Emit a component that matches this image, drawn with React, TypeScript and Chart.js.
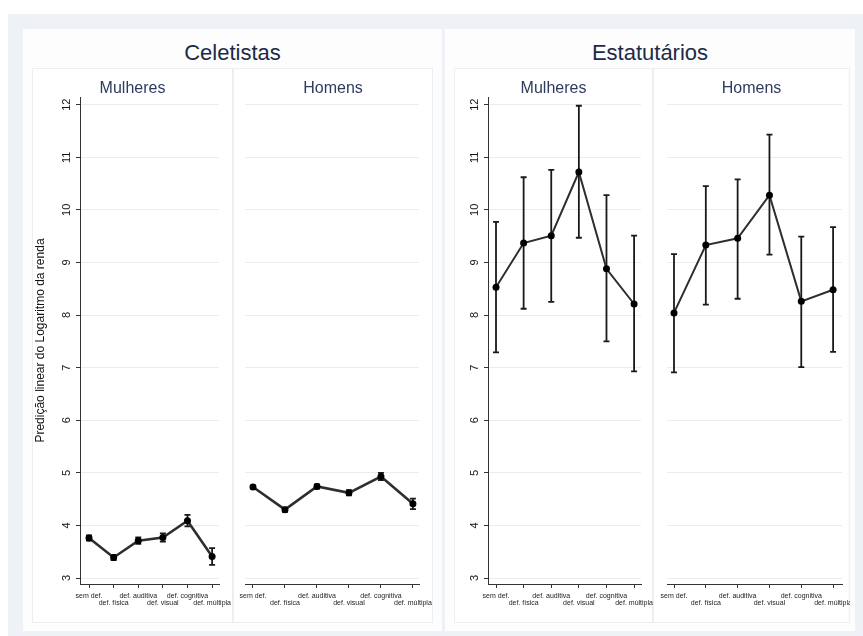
import React, { useEffect, useRef } from 'react';
import { Chart, registerables } from 'chart.js';

Chart.register(...registerables);

// ---------- data ----------
const categories = ['sem def.', 'def. física', 'def. auditiva', 'def. visual', 'def. cognitiva', 'def. múltipla'];
const yTickValues = [3, 4, 5, 6, 7, 8, 9, 10, 11, 12];
const yAxisTitle = 'Predição linear do Logaritmo da renda';
const groupTitles = ['Celetistas', 'Estatutários'];
const sexTitles = ['Mulheres', 'Homens'];

const celMulheresMean = [3.76, 3.39, 3.71, 3.77, 4.09, 3.41];
const celMulheresLo = [3.71, 3.34, 3.65, 3.69, 3.98, 3.25];
const celMulheresHi = [3.81, 3.44, 3.77, 3.85, 4.2, 3.57];

const celHomensMean = [4.73, 4.3, 4.74, 4.62, 4.93, 4.41];
const celHomensLo = [4.7, 4.26, 4.7, 4.57, 4.86, 4.31];
const celHomensHi = [4.76, 4.34, 4.78, 4.67, 5.0, 4.51];

const estMulheresMean = [8.53, 9.37, 9.51, 10.72, 8.88, 8.21];
const estMulheresLo = [7.29, 8.12, 8.25, 9.47, 7.5, 6.93];
const estMulheresHi = [9.77, 10.62, 10.76, 11.98, 10.28, 9.51];

const estHomensMean = [8.04, 9.33, 9.46, 10.28, 8.26, 8.48];
const estHomensLo = [6.91, 8.2, 8.31, 9.15, 7.01, 7.3];
const estHomensHi = [9.16, 10.45, 10.58, 11.43, 9.49, 9.67];

// ---------- styling ----------
const FONT = "'Liberation Sans', Arial, Helvetica, sans-serif";
const Y_MIN = 2.886;
const Y_MAX = 12.146;

type SubProps = {
  left: number;
  top: number;
  width: number;
  height: number;
  title: string;
  mean: number[];
  lo: number[];
  hi: number[];
  showY: boolean;
  yTitle?: string;
  yWidth: number;
  padRight: number;
  xMin: number;
  xMax: number;
  lineWidth: number;
};

function SubChart(p: SubProps) {
  const ref = useRef<HTMLCanvasElement>(null);
  useEffect(() => {
    const canvas = ref.current!;
    const errorBars = {
      id: 'errorBars',
      beforeDatasetsDraw(chart: any) {
        const { ctx } = chart;
        const xs = chart.scales.x;
        const ys = chart.scales.y;
        ctx.save();
        ctx.strokeStyle = '#1a1a1a';
        ctx.lineWidth = 1.8;
        p.lo.forEach((l, i) => {
          const px = xs.getPixelForValue(i);
          const pl = ys.getPixelForValue(l);
          const ph = ys.getPixelForValue(p.hi[i]);
          ctx.beginPath();
          ctx.moveTo(px, pl);
          ctx.lineTo(px, ph);
          ctx.moveTo(px - 3, pl);
          ctx.lineTo(px + 3, pl);
          ctx.moveTo(px - 3, ph);
          ctx.lineTo(px + 3, ph);
          ctx.stroke();
        });
        ctx.restore();
      },
    };
    // Stata-style y tick labels, rotated to read bottom-to-top
    const rotatedYLabels = {
      id: 'rotatedYLabels',
      afterDraw(chart: any) {
        if (!p.showY) return;
        const { ctx } = chart;
        const ys = chart.scales.y;
        ctx.save();
        ctx.font = `11px ${FONT}`;
        ctx.fillStyle = '#151515';
        ctx.textAlign = 'center';
        ctx.textBaseline = 'middle';
        ys.ticks.forEach((t: any) => {
          const py = ys.getPixelForValue(t.value);
          ctx.save();
          ctx.translate(ys.right - 13, py);
          ctx.rotate(-Math.PI / 2);
          ctx.fillText(String(t.value), 0, 0);
          ctx.restore();
        });
        ctx.restore();
      },
    };
    const chart = new Chart(canvas, {
      type: 'line',
      data: {
        datasets: [
          {
            data: p.mean.map((v, i) => ({ x: i, y: v })),
            borderColor: '#2e2e2e',
            borderWidth: p.lineWidth,
            pointRadius: 3.5,
            pointBackgroundColor: '#000000',
            pointBorderColor: '#000000',
            pointBorderWidth: 0,
            tension: 0,
            fill: false,
          },
        ],
      },
      options: {
        responsive: false,
        animation: false,
        layout: { padding: 0 },
        plugins: {
          legend: { display: false },
          tooltip: { enabled: false },
          title: {
            display: true,
            text: p.title,
            color: '#2d3b5e',
            font: { family: FONT, size: 16, weight: 'normal', lineHeight: 1 },
            padding: { top: 13, bottom: 0 },
          },
        },
        scales: {
          x: {
            type: 'linear',
            min: p.xMin,
            max: p.xMax,
            afterBuildTicks: (s: any) => {
              s.ticks = categories.map((_, i) => ({ value: i }));
            },
            afterFit: (s: any) => {
              s.height = 39;
              s.paddingLeft = 0;
              s.paddingRight = 0;
            },
            ticks: {
              autoSkip: false,
              minRotation: 0,
              maxRotation: 0,
              padding: 4,
              color: '#222222',
              font: { family: FONT, size: 7, lineHeight: 1.07 },
              callback: (v: any) => {
                const i = Math.round(Number(v));
                const lab = categories[i] ?? '';
                return i % 2 === 0 ? [lab] : ['', lab];
              },
            },
            grid: {
              drawOnChartArea: false,
              drawTicks: true,
              tickLength: 4,
              tickColor: '#333333',
              tickWidth: 1,
            },
            border: { display: true, color: '#333333', width: 1 },
          },
          y: {
            type: 'linear',
            min: Y_MIN,
            max: Y_MAX,
            afterBuildTicks: (s: any) => {
              s.ticks = yTickValues.map((v) => ({ value: v }));
            },
            afterFit: (s: any) => {
              s.width = p.yWidth;
              s.paddingTop = 0;
              s.paddingBottom = 0;
            },
            ticks: { display: false },
            grid: {
              color: '#ececec',
              lineWidth: 1,
              drawTicks: p.showY,
              tickLength: 4,
              tickColor: '#333333',
            },
            border: { display: p.showY, color: '#333333', width: 1 },
            title: {
              display: !!p.yTitle,
              text: p.yTitle || '',
              color: '#111111',
              font: { family: FONT, size: 12, lineHeight: 1.2 },
              padding: { top: 1, bottom: 0 },
            },
          },
          // empty right-hand scale that only reserves the subpanel's right margin
          yRight: {
            type: 'linear',
            position: 'right',
            display: true,
            min: 0,
            max: 1,
            afterBuildTicks: (s: any) => {
              s.ticks = [];
            },
            afterFit: (s: any) => {
              s.width = p.padRight;
              s.paddingTop = 0;
              s.paddingBottom = 0;
            },
            ticks: { display: false },
            grid: { display: false, drawTicks: false },
            border: { display: false },
          },
        },
      } as any,
      plugins: [errorBars, rotatedYLabels],
    });
    return () => chart.destroy();
  }, []);
  return (
    <canvas
      ref={ref}
      width={p.width}
      height={p.height}
      style={{ position: 'absolute', left: p.left, top: p.top, width: p.width, height: p.height, display: 'block' }}
    />
  );
}

const boxBorder = '1px solid #eceef1';

export default function App() {
  const top = 68;
  const h = 555;
  return (
    <div style={{ position: 'absolute', left: 0, top: 0, width: 863, height: 636, background: '#ffffff', overflow: 'hidden', fontFamily: FONT }}>
      <div style={{ position: 'absolute', left: 8, top: 14, width: 855, height: 622, background: '#eef1f6' }} />
      <div style={{ position: 'absolute', left: 23, top: 29, width: 419, height: 602, background: '#fdfdfe' }} />
      <div style={{ position: 'absolute', left: 445, top: 29, width: 410, height: 602, background: '#fdfdfe' }} />
      <div style={{ position: 'absolute', left: 23, top: 42, width: 419, textAlign: 'center', fontSize: 22, lineHeight: '22px', color: '#1c2a48' }}>
        {groupTitles[0]}
      </div>
      <div style={{ position: 'absolute', left: 445, top: 42, width: 410, textAlign: 'center', fontSize: 22, lineHeight: '22px', color: '#1c2a48' }}>
        {groupTitles[1]}
      </div>
      <div style={{ position: 'absolute', left: 32, top, width: 201, height: h, border: boxBorder, boxSizing: 'border-box', background: '#ffffff' }} />
      <div style={{ position: 'absolute', left: 233, top, width: 200, height: h, border: boxBorder, boxSizing: 'border-box', background: '#ffffff' }} />
      <div style={{ position: 'absolute', left: 454, top, width: 199, height: h, border: boxBorder, boxSizing: 'border-box', background: '#ffffff' }} />
      <div style={{ position: 'absolute', left: 653, top, width: 197, height: h, border: boxBorder, boxSizing: 'border-box', background: '#ffffff' }} />

      <SubChart left={32} top={top} width={201} height={h} title={sexTitles[0]} mean={celMulheresMean} lo={celMulheresLo} hi={celMulheresHi}
        showY={true} yTitle={yAxisTitle} yWidth={48} padRight={14} xMin={-0.366} xMax={5.28} lineWidth={2.6} />
      <SubChart left={233} top={top} width={200} height={h} title={sexTitles[1]} mean={celHomensMean} lo={celHomensLo} hi={celHomensHi}
        showY={false} yWidth={12} padRight={14} xMin={-0.25} xMax={5.19} lineWidth={2.6} />
      <SubChart left={454} top={top} width={199} height={h} title={sexTitles[0]} mean={estMulheresMean} lo={estMulheresLo} hi={estMulheresHi}
        showY={true} yWidth={34} padRight={12} xMin={-0.29} xMax={5.25} lineWidth={2} />
      <SubChart left={653} top={top} width={197} height={h} title={sexTitles[1]} mean={estHomensMean} lo={estHomensLo} hi={estHomensHi}
        showY={false} yWidth={14} padRight={8} xMin={-0.22} xMax={5.28} lineWidth={2} />
    </div>
  );
}
